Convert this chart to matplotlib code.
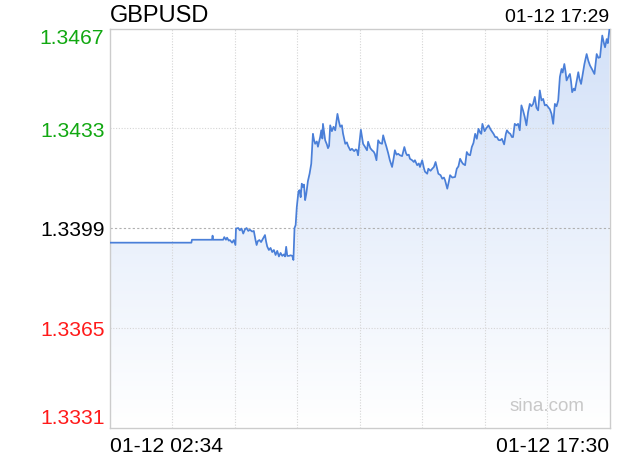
import matplotlib
matplotlib.use("Agg")
import matplotlib.pyplot as plt
import numpy as np
from matplotlib.colors import LinearSegmentedColormap

plt.rcParams['font.family'] = ['Liberation Sans', 'DejaVu Sans']

SYMBOL = "GBPUSD"
START_LABEL = "01-12 02:34"
END_LABEL = "01-12 17:30"
LAST_LABEL = "01-12 17:29"
PREV_CLOSE = 1.3399
Y_TICKS = [1.3331, 1.3365, 1.3399, 1.3433, 1.3467]
SPAN = 896  # minutes from 02:34 to 17:30

# minutes after 02:34
MINUTES = [0, 146, 147, 183, 184, 185, 203, 205, 208, 210, 213, 215, 219, 222, 225,
           226, 230, 233, 236, 239, 242, 245, 248, 251, 255, 258, 261, 263, 265, 268,
           271, 274, 278, 280, 282, 285, 288, 291, 294, 297, 300, 303, 306, 309, 312,
           314, 316, 318, 321, 324, 327, 329, 331, 333, 335, 338, 340, 342, 344, 346,
           348, 350, 352, 355, 358, 361, 364, 366, 368, 371, 373, 377, 379, 381, 382,
           386, 389, 391, 393, 395, 398, 401, 404, 408, 411, 413, 416, 418, 422, 425,
           427, 431, 434, 438, 441, 443, 445, 450, 452, 454, 457, 461, 463, 467, 470,
           473, 475, 478, 481, 484, 488, 490, 493, 496, 499, 502, 506, 509, 511, 514,
           517, 520, 524, 528, 531, 533, 536, 538, 542, 545, 547, 551, 554, 556, 560,
           563, 565, 569, 571, 575, 578, 581, 584, 589, 593, 596, 599, 601, 605, 608,
           610, 614, 619, 622, 625, 628, 631, 633, 637, 640, 643, 646, 649, 652, 655,
           658, 661, 664, 666, 668, 672, 675, 679, 683, 688, 691, 694, 697, 700, 703,
           707, 710, 712, 715, 718, 721, 723, 726, 729, 732, 735, 738, 741, 744, 747,
           750, 753, 756, 759, 762, 765, 768, 771, 774, 777, 780, 783, 786, 789, 792,
           795, 798, 801, 804, 807, 810, 812, 815, 817, 819, 822, 825, 827, 829, 832,
           834, 837, 840, 842, 845, 848, 851, 855, 858, 861, 865, 869, 873, 876, 879,
           883, 886, 888, 891, 893, 896]

PRICES = [1.33940, 1.33940, 1.33950, 1.33950, 1.33964, 1.33950, 1.33950, 1.33959, 1.33950, 1.33957,
          1.33947, 1.33949, 1.33940, 1.33949, 1.33932, 1.33988, 1.33990, 1.33982, 1.33988, 1.33971,
          1.33985, 1.33990, 1.33980, 1.33984, 1.33978, 1.33980, 1.33949, 1.33932, 1.33945, 1.33949,
          1.33942, 1.33952, 1.33966, 1.33944, 1.33927, 1.33915, 1.33922, 1.33908, 1.33915, 1.33898,
          1.33912, 1.33893, 1.33905, 1.33895, 1.33900, 1.33893, 1.33926, 1.33895, 1.33895, 1.33897,
          1.33895, 1.33881, 1.33990, 1.34000, 1.34060, 1.34114, 1.34119, 1.34095, 1.34141, 1.34130,
          1.34138, 1.34085, 1.34105, 1.34150, 1.34175, 1.34209, 1.34311, 1.34290, 1.34277, 1.34285,
          1.34267, 1.34300, 1.34323, 1.34295, 1.34345, 1.34289, 1.34275, 1.34262, 1.34270, 1.34340,
          1.34320, 1.34335, 1.34323, 1.34379, 1.34350, 1.34335, 1.34340, 1.34312, 1.34277, 1.34282,
          1.34270, 1.34255, 1.34260, 1.34252, 1.34258, 1.34255, 1.34238, 1.34325, 1.34300, 1.34277,
          1.34268, 1.34255, 1.34284, 1.34262, 1.34255, 1.34250, 1.34243, 1.34221, 1.34289, 1.34280,
          1.34277, 1.34306, 1.34285, 1.34266, 1.34245, 1.34221, 1.34198, 1.34230, 1.34255, 1.34240,
          1.34243, 1.34238, 1.34235, 1.34266, 1.34245, 1.34238, 1.34240, 1.34226, 1.34221, 1.34215,
          1.34221, 1.34204, 1.34210, 1.34198, 1.34221, 1.34195, 1.34182, 1.34175, 1.34192, 1.34185,
          1.34192, 1.34198, 1.34215, 1.34175, 1.34170, 1.34158, 1.34162, 1.34153, 1.34124, 1.34150,
          1.34170, 1.34162, 1.34164, 1.34192, 1.34200, 1.34226, 1.34215, 1.34209, 1.34204, 1.34249,
          1.34240, 1.34238, 1.34266, 1.34280, 1.34311, 1.34294, 1.34328, 1.34315, 1.34311, 1.34345,
          1.34320, 1.34330, 1.34340, 1.34325, 1.34311, 1.34300, 1.34300, 1.34290, 1.34289, 1.34294,
          1.34275, 1.34310, 1.34323, 1.34315, 1.34311, 1.34300, 1.34300, 1.34345, 1.34340, 1.34345,
          1.34323, 1.34408, 1.34390, 1.34368, 1.34340, 1.34385, 1.34413, 1.34405, 1.34413, 1.34437,
          1.34400, 1.34391, 1.34459, 1.34425, 1.34430, 1.34408, 1.34410, 1.34402, 1.34395, 1.34379,
          1.34345, 1.34413, 1.34405, 1.34425, 1.34505, 1.34532, 1.34520, 1.34549, 1.34525, 1.34493,
          1.34505, 1.34515, 1.34490, 1.34453, 1.34465, 1.34459, 1.34490, 1.34521, 1.34500, 1.34481,
          1.34515, 1.34549, 1.34583, 1.34560, 1.34544, 1.34530, 1.34515, 1.34583, 1.34570, 1.34572,
          1.34646, 1.34620, 1.34606, 1.34634, 1.34620, 1.34670]


def tick_color(v):
    if v > PREV_CLOSE:
        return '#11a811'
    if v < PREV_CLOSE:
        return '#ff1a1a'
    return '#000000'


fig = plt.figure(figsize=(6.2, 4.6), dpi=100)
ax = fig.add_axes([110 / 620, 31.5 / 460, 499.5 / 620, 399 / 460])

ymin, ymax = Y_TICKS[0], Y_TICKS[-1]
ax.set_xlim(0, SPAN)
ax.set_ylim(ymin, ymax)

# gradient fill under the line
poly = ax.fill_between(MINUTES, PRICES, ymin, facecolor='none', edgecolor='none')
cmap = LinearSegmentedColormap.from_list('fill', ['#ffffff', '#d3e1f8'])
grad = np.linspace(0, 1, 256).reshape(-1, 1)
im = ax.imshow(grad, cmap=cmap, origin='lower', aspect='auto',
               extent=[0, SPAN, ymin, ymax], zorder=1)
im.set_clip_path(poly.get_paths()[0], transform=ax.transData)

ax.plot(MINUTES, PRICES, color='#4a7fd8', lw=1.25, zorder=3)

# grid
for v in Y_TICKS[1:-1]:
    if v == PREV_CLOSE:
        ax.axhline(v, color='#b0b0b0', lw=0.8, ls=(0, (2, 2)), zorder=2)
    else:
        ax.axhline(v, color='#d5d5d5', lw=0.8, ls=(0, (1, 1.5)), zorder=2)
for m in np.linspace(0, SPAN, 9)[1:-1]:
    ax.axvline(m, color='#d5d5d5', lw=0.8, ls=(0, (1, 1.5)), zorder=2)

for s in ax.spines.values():
    s.set_color('#cccccc')
    s.set_linewidth(1.0)

ax.set_yticks(Y_TICKS)
ax.set_yticklabels([f"{v:.4f}" for v in Y_TICKS], fontsize=15.2)
ax.tick_params(axis='y', length=0, pad=4)
for lab, v in zip(ax.get_yticklabels(), Y_TICKS):
    lab.set_color(tick_color(v))
ylabs = ax.get_yticklabels()
ylabs[0].set_va('bottom')
ylabs[-1].set_va('top')

ax.set_xticks([0, SPAN])
ax.set_xticklabels([START_LABEL, END_LABEL], fontsize=15.2)
ax.tick_params(axis='x', length=0, pad=6)
xlabs = ax.get_xticklabels()
xlabs[0].set_ha('left')
xlabs[1].set_ha('right')

fig.text(110 / 620, 1 - 15.5 / 460, SYMBOL, fontsize=17, ha='left', va='center')
fig.text(609 / 620, 1 - 17 / 460, LAST_LABEL, fontsize=14, ha='right', va='center')
ax.text(0.95, 0.035, "sina.com", transform=ax.transAxes, fontsize=13.5,
        color='#c8c8c8', ha='right', va='bottom', zorder=4)

fig.savefig("out.png", dpi=100)
